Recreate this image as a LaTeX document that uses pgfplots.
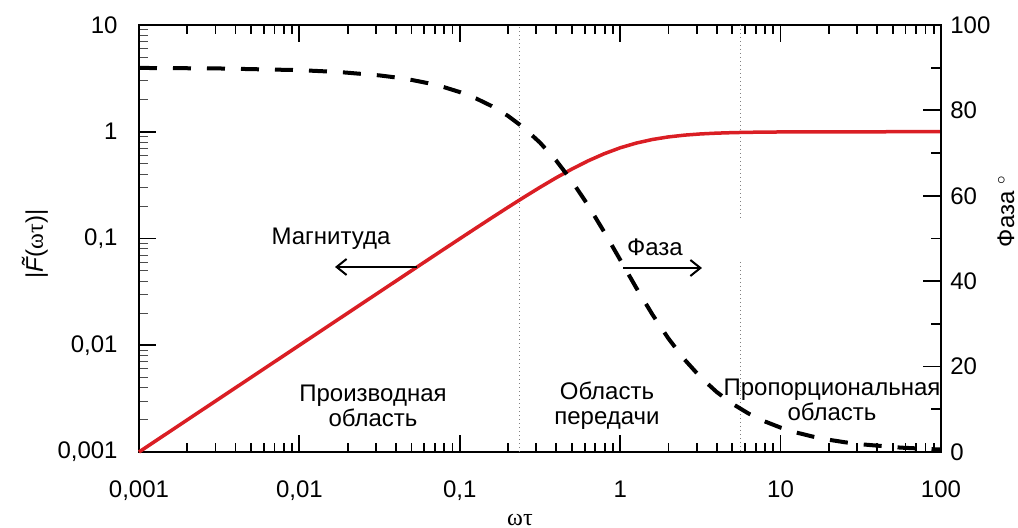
\documentclass[border=0pt]{standalone}
\usepackage{fontspec}
\setmainfont{Liberation Sans}
\newfontfamily\seriffont{Liberation Serif}
\usepackage{pgfplots}
\pgfplotsset{compat=1.18}
\usetikzlibrary{arrows.meta}
\definecolor{redline}{RGB}{218,30,36}

\begin{document}
\begin{tikzpicture}
\useasboundingbox (-69.5pt,-38pt) rectangle (439.5pt,226pt);
\begin{axis}[
  at={(0,0)}, anchor=south west,
  scale only axis, width=401pt, height=213.5pt,
  xmode=log, ymode=log,
  xmin=0.001, xmax=100, ymin=0.001, ymax=10,
  xtick={0.001,0.01,0.1,1,10,100},
  xticklabels={{0,001},{0,01},{0,1},1,10,100},
  minor xtick={0.002,0.003,0.004,0.005,0.006,0.007,0.008,0.009,
               0.02,0.03,0.04,0.05,0.06,0.07,0.08,0.09,
               0.2,0.3,0.4,0.5,0.6,0.7,0.8,0.9,
               2,3,4,5,6,7,8,9,20,30,40,50,60,70,80,90},
  ytick={0.001,0.01,0.1,1,10},
  yticklabels={{0,001},{0,01},{0,1},1,10},
  minor ytick={0.002,0.003,0.004,0.005,0.006,0.007,0.008,0.009,
               0.02,0.03,0.04,0.05,0.06,0.07,0.08,0.09,
               0.2,0.3,0.4,0.5,0.6,0.7,0.8,0.9,
               2,3,4,5,6,7,8,9},
  tick align=inside,
  xtick pos=both, ytick pos=left, xticklabel pos=lower,
  major tick length=8.5pt, minor tick length=4.5pt,
  axis line style={line width=1pt},
  major tick style={line width=0.9pt, black},
  minor x tick style={line width=0.9pt, black},
  minor y tick style={line width=0.45pt, black!70},
  ticklabel style={font=\fontsize{12}{14}\selectfont},
  xticklabel style={anchor=base, inner sep=0pt, yshift=-23pt},
  yticklabel style={anchor=east, inner sep=0pt, xshift=-10.5pt},
  clip=false,
]
\addplot[gray, line width=0.6pt, dash pattern=on 0.6pt off 1.4pt] coordinates {(0.235,0.001) (0.235,10)};
\addplot[gray, line width=0.6pt, dash pattern=on 0.6pt off 1.4pt] coordinates {(5.6,10) (5.6,0.1556)};
\addplot[gray, line width=0.6pt, dash pattern=on 0.6pt off 1.4pt] coordinates {(5.6,0.0603) (5.6,0.001)};
\addplot[redline, line width=1.75pt] coordinates {
(0.001,0.001) (0.003162,0.003162) (0.01,0.0099995) (0.03162,0.031607)
(0.03981,0.03978) (0.05012,0.05006) (0.0631,0.06297) (0.07943,0.07918)
(0.1,0.0995) (0.12589,0.1249) (0.15849,0.15654) (0.19953,0.19567)
(0.25119,0.24362) (0.31623,0.30151) (0.39811,0.36988) (0.50119,0.44806)
(0.63096,0.53362) (0.79433,0.62199) (1,0.70711) (1.2589,0.78302)
(1.5849,0.84572) (1.9953,0.894) (2.5119,0.92909) (3.1623,0.95346)
(3.9811,0.96987) (5.0119,0.98067) (6.3096,0.98767) (7.9433,0.99217)
(10,0.99504) (12.589,0.99686) (15.849,0.99801) (19.953,0.99875)
(25.119,0.99921) (31.623,0.9995) (56.23,0.99984) (100,0.99995)
};
\node[font=\fontsize{12}{14}\selectfont] at (rel axis cs:0.2394,0.4988) {Магнитуда};
\draw[line width=0.8pt, -{Straight Barb[length=5pt,width=8pt,line width=1pt]}] (rel axis cs:0.3466,0.4333) -- (rel axis cs:0.2444,0.4333);
\node[font=\fontsize{12}{14}\selectfont] at (rel axis cs:0.6434,0.4801) {Фаза};
\draw[line width=0.8pt, -{Straight Barb[length=5pt,width=8pt,line width=1pt]}] (rel axis cs:0.6035,0.4309) -- (rel axis cs:0.7020,0.4309);
\node[font=\fontsize{12}{12.5}\selectfont, align=center] at (rel axis cs:0.2918,0.1089) {Производная\\область};
\node[font=\fontsize{12}{12.5}\selectfont, align=center] at (rel axis cs:0.5835,0.1089) {Область\\передачи};
\node[font=\fontsize{12}{12.5}\selectfont, align=center] at (rel axis cs:0.8641,0.1218) {Пропорциональная\\область};
\node[font=\fontsize{12}{14}\selectfont, rotate=90] at (rel axis cs:-0.1297,0.487) {|\textit{\~{F}}(\seriffont ωτ\normalfont)|};
\node[font=\fontsize{12}{13}\selectfont] at (rel axis cs:0.475,-0.1593) {\seriffont ωτ};
\node[font=\fontsize{12}{14}\selectfont, rotate=90] at (rel axis cs:1.081,0.564) {Фаза $^\circ$};
\end{axis}
\begin{axis}[
  at={(0,0)}, anchor=south west,
  scale only axis, width=401pt, height=213.5pt,
  xmode=log, xmin=0.001, xmax=100, ymin=0, ymax=100,
  hide x axis, axis y line*=right,
  ytick={0,20,40,60,80,100}, minor ytick={10,30,50,70,90},
  tick align=inside,
  major tick length=9pt, minor tick length=5pt,
  axis line style={line width=1pt},
  major tick style={line width=0.9pt, black},
  minor tick style={line width=0.9pt, black},
  ticklabel style={font=\fontsize{12}{14}\selectfont},
  yticklabel style={anchor=west, inner sep=0pt, xshift=4.5pt},
  /pgf/number format/assume math mode=true,
  clip=false,
]
\addplot[black, line width=2pt, dash pattern=on 9pt off 8pt] coordinates {
(0.001,89.943) (0.003162,89.82) (0.01,89.427) (0.01778,88.98) (0.03162,88.19)
(0.03981,87.72) (0.05012,87.13) (0.0631,86.39) (0.07943,85.46) (0.1,84.29)
(0.12589,82.82) (0.15849,80.99) (0.19953,78.72) (0.25119,75.9) (0.31623,72.45)
(0.39811,68.3) (0.50119,63.38) (0.63096,57.75) (0.79433,51.54) (1,45)
(1.2589,38.46) (1.5849,32.25) (1.9953,26.62) (2.5119,21.7) (3.1623,17.55)
(3.9811,14.1) (5.0119,11.28) (6.3096,9.01) (7.9433,7.18) (10,5.71)
(12.589,4.54) (15.849,3.61) (19.953,2.87) (25.119,2.28) (31.623,1.81)
(56.23,1.02) (100,0.573)
};
\end{axis}
\end{tikzpicture}
\end{document}
